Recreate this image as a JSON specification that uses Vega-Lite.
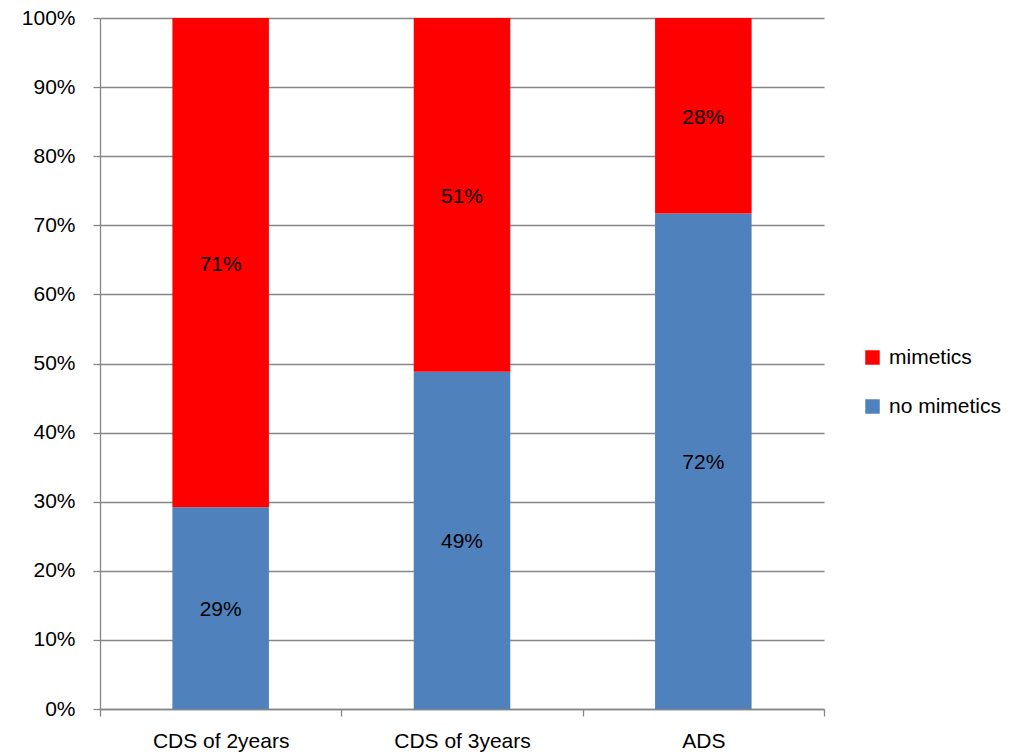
{
  "$schema": "https://vega.github.io/schema/vega-lite/v6.json",
  "autosize": {"type": "none"},
  "width": 724,
  "height": 691,
  "padding": {"left": 100, "top": 18, "right": 200, "bottom": 47},
  "background": "white",
  "config": {
    "view": {"stroke": null},
    "font": "Liberation Sans",
    "axis": {"labelFont": "Liberation Sans", "labelFontSize": 21, "labelColor": "#000000", "domainColor": "#868686", "tickColor": "#868686", "gridColor": "#868686", "domainWidth": 1.3, "gridWidth": 1.3, "tickWidth": 1.3, "labelOverlap": false}
  },
  "data": {
    "values": [
      {"group": "CDS of 2years", "series": "no mimetics", "value": 0.292, "label": "29%"},
      {"group": "CDS of 2years", "series": "mimetics", "value": 0.708, "label": "71%"},
      {"group": "CDS of 3years", "series": "no mimetics", "value": 0.488, "label": "49%"},
      {"group": "CDS of 3years", "series": "mimetics", "value": 0.512, "label": "51%"},
      {"group": "ADS", "series": "no mimetics", "value": 0.717, "label": "72%"},
      {"group": "ADS", "series": "mimetics", "value": 0.283, "label": "28%"}
    ]
  },
  "transform": [
    {"stack": "value", "groupby": ["group"], "sort": [{"field": "series", "order": "descending"}], "as": ["y0", "y1"]},
    {"calculate": "(datum.y0 + datum.y1) / 2", "as": "ymid"}
  ],
  "encoding": {
    "x": {
      "field": "group", "type": "nominal", "sort": ["CDS of 2years", "CDS of 3years", "ADS"],
      "scale": {"paddingInner": 0, "paddingOuter": 0},
      "axis": {"title": null, "labelAngle": 0, "tickBand": "extent", "tickSize": 7, "labelPadding": 14, "grid": false}
    }
  },
  "layer": [
    {
      "mark": {"type": "bar", "width": {"band": 0.4}},
      "encoding": {
        "y": {"field": "y0", "type": "quantitative", "scale": {"domain": [0, 1]},
          "axis": {"title": null, "format": ".0%", "values": [0,0.1,0.2,0.3,0.4,0.5,0.6,0.7,0.8,0.9,1], "tickSize": 7, "labelPadding": 18, "grid": true}},
        "y2": {"field": "y1"},
        "color": {
          "field": "series", "type": "nominal",
          "scale": {"domain": ["mimetics", "no mimetics"], "range": ["#FF0000", "#4F81BD"]},
          "legend": {"title": null, "orient": "none", "legendX": 762, "legendY": 329, "symbolType": "square", "symbolSize": 210, "symbolStrokeWidth": 0, "labelFontSize": 21, "labelFont": "Liberation Sans", "labelColor": "#000000", "rowPadding": 27, "labelOffset": 6}
        }
      }
    },
    {
      "mark": {"type": "text", "fontSize": 21, "color": "#000000", "font": "Liberation Sans", "dy": 2},
      "encoding": {
        "y": {"field": "ymid", "type": "quantitative"},
        "text": {"field": "label", "type": "nominal"}
      }
    }
  ]
}
